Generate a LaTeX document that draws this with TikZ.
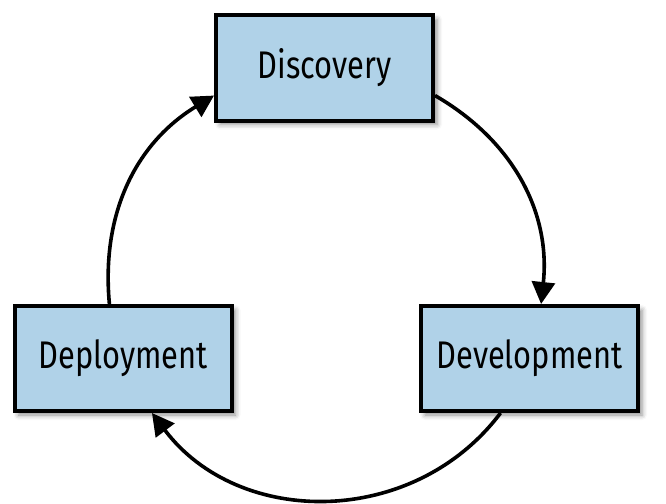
\documentclass[tikz,border=0pt]{standalone}
\usepackage{fontspec}
\setsansfont{Fira Sans}[FakeStretch=0.8]
\usetikzlibrary{arrows.meta,shadows.blur}
\definecolor{stagefill}{RGB}{176,210,232}
\begin{document}
\begin{tikzpicture}[x=1pt,y=1pt,
  stage/.style={draw=black, line width=4pt, fill=stagefill,
    minimum width=217pt, minimum height=105pt,
    font=\sffamily\fontsize{38.5}{40}\selectfont,
    blur shadow={shadow xshift=4pt, shadow yshift=-4pt, shadow blur radius=5pt, shadow opacity=45}},
  flow/.style={line width=3.6pt, -{Triangle[length=22pt,width=23pt]}}]
\pgfmathsetmacro\rowtop{-68}
\pgfmathsetmacro\rowlow{-358.5}
\useasboundingbox (0,0) rectangle (666,-503);
\node[stage] (disc) at (324.5,\rowtop) {Discovery};
\node[stage] (depl) at (123,\rowlow) {Deployment};
\node[stage] (devl) at (529.5,\rowlow) {Development};
\draw[flow] (disc.-14) to[bend left=33] (devl.78);
\draw[flow] (devl.242) to[bend left=53, looseness=1.06] (depl.-62);
\draw[flow] (depl.104) to[bend left=32] (disc.194);
\end{tikzpicture}
\end{document}
